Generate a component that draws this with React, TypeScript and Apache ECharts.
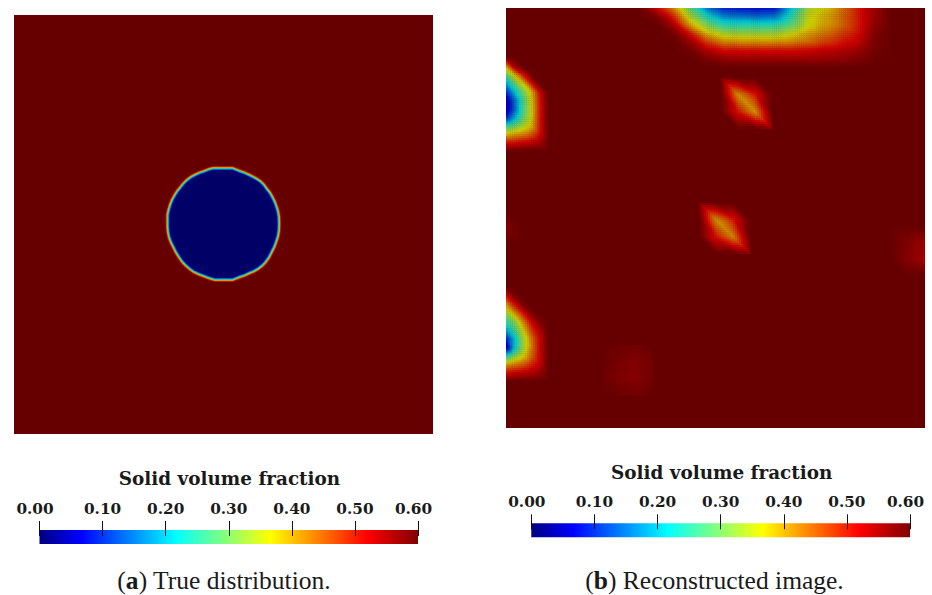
import React, { useEffect, useRef } from "react";
import * as echarts from "echarts";

// Scale
const scaleMin = 0;
const scaleMax = 0.6;
const tickLabels = ["0.00", "0.10", "0.20", "0.30", "0.40", "0.50", "0.60"];
const legendTitle = "Solid volume fraction";
const background = 0.6;

// (a) True distribution: outline of the void, in image units
const voidOutline = [
  [199.3, 152.3], [219.3, 152.3], [226, 155], [231.2, 156.8], [236, 159], [242.1, 162.1], [247.7, 165.7],
  [251.3, 169.2], [254.3, 173.3], [257.4, 177.2], [260, 181.7], [262.4, 186.5], [264.3, 191.7], [265.8, 196.5],
  [266.7, 201.7], [267, 209], [266.7, 216.7], [265.8, 221.9], [264.3, 226.7], [262.1, 232.8], [259.3, 238.3],
  [256.6, 243.6], [253.3, 248.3], [249.9, 251.9], [246, 255], [241.2, 257.8], [236, 260], [231.1, 262.3],
  [226, 264], [219.3, 266.7], [201, 266.7], [196, 265.2], [191, 263.3], [185, 261], [179.3, 258.3],
  [175, 255.2], [171, 251.7], [167.4, 247.8], [164.3, 243.3], [161.3, 238.5], [158.7, 233.3], [156.3, 228.5],
  [154.3, 223.3], [153.3, 218.4], [152.7, 213.3], [152.7, 200], [153.8, 195], [155.3, 190], [157.4, 184.8],
  [160, 180], [162.8, 175.6], [166, 171.7], [169.1, 167.8], [172.7, 164.3], [176.6, 161.4], [181, 159],
  [185.8, 156.8], [191, 155], [195, 153.4],
];
// inset from the outline (image units) and the value there
const voidEdge = [
  [-1.2, 0.57], [-0.6, 0.5], [0, 0.42], [0.6, 0.34], [1.2, 0.26], [1.8, 0.2], [2.4, 0.12], [3, 0.04], [3.6, 0],
];

// (b) Reconstructed image: node values of the reconstructed mesh, per feature
const topBlob = [
  [0.59, 0.52, 0.42, 0.28, 0.15, 0.09, 0.08, 0.07, 0.075, 0.2, 0.33, 0.37, 0.43, 0.5, 0.56, 0.6],
  [0.6, 0.58, 0.49, 0.33, 0.23, 0.16, 0.15, 0.14, 0.15, 0.24, 0.35, 0.39, 0.44, 0.5, 0.56, 0.6],
  [0.6, 0.6, 0.55, 0.4, 0.3, 0.24, 0.24, 0.24, 0.24, 0.28, 0.36, 0.4, 0.44, 0.5, 0.57, 0.6],
  [0.6, 0.6, 0.59, 0.5, 0.38, 0.33, 0.32, 0.32, 0.32, 0.35, 0.4, 0.43, 0.47, 0.51, 0.58, 0.6],
  [0.6, 0.6, 0.6, 0.56, 0.47, 0.42, 0.41, 0.41, 0.41, 0.42, 0.44, 0.47, 0.5, 0.53, 0.585, 0.6],
  [0.6, 0.6, 0.6, 0.59, 0.54, 0.51, 0.51, 0.51, 0.51, 0.51, 0.52, 0.53, 0.54, 0.56, 0.59, 0.6],
  [0.6, 0.6, 0.6, 0.6, 0.58, 0.56, 0.555, 0.555, 0.555, 0.555, 0.555, 0.56, 0.565, 0.58, 0.595, 0.6],
  [0.6, 0.6, 0.6, 0.6, 0.6, 0.6, 0.6, 0.6, 0.6, 0.6, 0.6, 0.6, 0.6, 0.6, 0.6, 0.6],
];
const leftUpperBlob = [
  [0.57, 0.6, 0.6, 0.6, 0.6, 0.6],
  [0.4, 0.55, 0.6, 0.6, 0.6, 0.6],
  [0.27, 0.38, 0.5, 0.59, 0.6, 0.6],
  [0.18, 0.28, 0.37, 0.5, 0.6, 0.6],
  [0.09, 0.2, 0.29, 0.38, 0.52, 0.6],
  [0.03, 0.14, 0.26, 0.36, 0.5, 0.6],
  [0.02, 0.13, 0.26, 0.36, 0.5, 0.6],
  [0.08, 0.18, 0.28, 0.36, 0.5, 0.6],
  [0.24, 0.28, 0.33, 0.38, 0.5, 0.6],
  [0.38, 0.4, 0.42, 0.45, 0.51, 0.6],
  [0.5, 0.5, 0.52, 0.53, 0.55, 0.6],
  [0.6, 0.6, 0.6, 0.6, 0.6, 0.6],
];
const leftLowerBlob = [
  [0.59, 0.6, 0.6, 0.6, 0.6, 0.6],
  [0.5, 0.58, 0.6, 0.6, 0.6, 0.6],
  [0.4, 0.5, 0.58, 0.6, 0.6, 0.6],
  [0.32, 0.4, 0.5, 0.58, 0.6, 0.6],
  [0.25, 0.3, 0.42, 0.52, 0.58, 0.6],
  [0.18, 0.26, 0.36, 0.47, 0.54, 0.6],
  [0.08, 0.2, 0.32, 0.43, 0.52, 0.6],
  [0.02, 0.2, 0.32, 0.42, 0.52, 0.6],
  [0.22, 0.3, 0.36, 0.44, 0.52, 0.6],
  [0.4, 0.42, 0.45, 0.49, 0.53, 0.6],
  [0.5, 0.52, 0.53, 0.54, 0.56, 0.6],
  [0.6, 0.6, 0.6, 0.6, 0.6, 0.6],
];
const upperDiamond = [
  [0.58, 0.6, 0.6, 0.6],
  [0.6, 0.41, 0.5, 0.6],
  [0.6, 0.5, 0.41, 0.6],
  [0.6, 0.6, 0.6, 0.57],
];
const middleDiamond = [
  [0.58, 0.6, 0.6, 0.6],
  [0.6, 0.41, 0.5, 0.6],
  [0.6, 0.5, 0.42, 0.6],
  [0.6, 0.6, 0.6, 0.57],
];
const faintSpot = [
  [0.6, 0.595, 0.59, 0.6],
  [0.6, 0.585, 0.578, 0.59],
  [0.595, 0.58, 0.575, 0.59],
  [0.6, 0.595, 0.59, 0.6],
];
const rightEdgeSpot = [
  [0.6, 0.6, 0.6],
  [0.6, 0.58, 0.56],
  [0.6, 0.575, 0.55],
  [0.6, 0.6, 0.6],
];
const leftEdgeSpot = [
  [0.6, 0.6],
  [0.58, 0.6],
  [0.6, 0.6],
];

const PANEL = 420;
const SUB_SIZE = 2.1;

// origin x, origin y, node spacing x, node spacing y, node values
const features: [number, number, number, number, number[][]][] = [
  [134.4, 0, 16.8, 8.4, topBlob],
  [0, 50.3, 8.4, 8.4, leftUpperBlob],
  [0, 280.3, 8.4, 8.4, leftLowerBlob],
  [216, 70, 16.8, 16.8, upperDiamond],
  [194, 195, 16.8, 16.8, middleDiamond],
  [97, 337, 16.8, 16.8, faintSpot],
  [386.4, 218, 16.8, 16.8, rightEdgeSpot],
  [0, 202, 16.8, 16.8, leftEdgeSpot],
];

const jetStops: [number, number, number, number][] = [
  [0, 0, 0, 0.5],
  [0.11, 0, 0, 1],
  [0.36, 0, 1, 1],
  [0.61, 1, 1, 0],
  [0.865, 1, 0, 0],
  [1, 0.5, 0, 0],
];

function jet(value: number, gain: number): string {
  const t = Math.min(1, Math.max(0, (value - scaleMin) / (scaleMax - scaleMin)));
  let i = 0;
  while (i < jetStops.length - 2 && t > jetStops[i + 1][0]) i++;
  const a = jetStops[i];
  const b = jetStops[i + 1];
  const f = (t - a[0]) / (b[0] - a[0]);
  const ch = (k: number) => Math.round(255 * gain * (a[k] + (b[k] - a[k]) * f));
  return `rgb(${ch(1)},${ch(2)},${ch(3)})`;
}
const PANEL_GAIN = 0.8;

function meshCells() {
  const cells: number[][] = [];
  features.forEach(([ox, oy, hx, hy, rows]) => {
    for (let r = 0; r < rows.length - 1; r++) {
      for (let c = 0; c < rows[r].length - 1; c++) {
        const q = [rows[r][c], rows[r][c + 1], rows[r + 1][c], rows[r + 1][c + 1]];
        if (q.some((v) => v < background)) cells.push([ox + c * hx, oy + r * hy, hx, hy, ...q]);
      }
    }
  });
  return cells;
}

const renderMeshCell = (_: any, api: any) => {
  const x0 = api.value(0);
  const y0 = api.value(1);
  const hx = api.value(2);
  const hy = api.value(3);
  const v00 = api.value(4);
  const v10 = api.value(5);
  const v01 = api.value(6);
  const v11 = api.value(7);
  const p0 = api.coord([x0, y0]);
  const p1 = api.coord([x0 + hx, y0 + hy]);
  const nx = Math.ceil(hx / SUB_SIZE);
  const ny = Math.ceil(hy / SUB_SIZE);
  const w = (p1[0] - p0[0]) / nx;
  const h = (p1[1] - p0[1]) / ny;
  const children: any[] = [];
  for (let j = 0; j < ny; j++) {
    for (let i = 0; i < nx; i++) {
      const s = (i + 0.5) / nx;
      const t = (j + 0.5) / ny;
      const v = s >= t ? v00 + (v10 - v00) * s + (v11 - v10) * t : v00 + (v01 - v00) * t + (v11 - v01) * s;
      if (v >= background) continue;
      children.push({
        type: "rect",
        shape: { x: p0[0] + i * w, y: p0[1] + j * h, width: w + 0.4, height: h + 0.4 },
        style: { fill: jet(v, PANEL_GAIN) },
      });
    }
  }
  return { type: "group", children, silent: true };
};

const renderVoidLevel = (_: any, api: any) => {
  const inset = api.value(0);
  const value = api.value(1);
  const n = voidOutline.length;
  const cx = voidOutline.reduce((a, p) => a + p[0], 0) / n;
  const cy = voidOutline.reduce((a, p) => a + p[1], 0) / n;
  const points = voidOutline.map(([x, y]) => {
    const d = Math.hypot(x - cx, y - cy);
    const k = (d - inset) / d;
    return api.coord([cx + (x - cx) * k, cy + (y - cy) * k]);
  });
  return { type: "polygon", shape: { points }, style: { fill: jet(value, PANEL_GAIN) }, silent: true };
};

const renderColorBar = (params: any, api: any) => {
  const sys = params.coordSys;
  const x0 = api.coord([scaleMin, 0])[0];
  const x1 = api.coord([scaleMax, 0])[0];
  return {
    type: "rect",
    shape: { x: x0, y: sys.y + 9, width: x1 - x0, height: 14 },
    style: {
      fill: new echarts.graphic.LinearGradient(
        0, 0, 1, 0,
        jetStops.map(([o, r, g, b]) => ({
          offset: o,
          color: `rgb(${Math.round(r * 255)},${Math.round(g * 255)},${Math.round(b * 255)})`,
        }))
      ),
    },
    silent: true,
  };
};

const serifBold = { fontFamily: "DejaVu Serif", fontWeight: "bold" as const, color: "#1a1a1a" };
const captionFont = { fontFamily: "Liberation Serif", fontSize: 25.5, color: "#1a1a1a" };

function colorBarAxis(gridIndex: number) {
  return {
    type: "value" as const,
    gridIndex,
    min: scaleMin,
    max: scaleMax,
    interval: 0.1,
    position: "top" as const,
    z: 5,
    splitLine: { show: false },
    axisLine: { show: false, onZero: false },
    axisTick: { show: true, inside: true, length: 15, lineStyle: { color: "#111", width: 1 } },
    axisLabel: {
      show: true,
      margin: 5,
      hideOverlap: false,
      formatter: (_: number, index: number) => {
        const label = tickLabels[index];
        return index === 0 || index === tickLabels.length - 1 ? `{edge|${label}}` : `{mid|${label}}`;
      },
      rich: {
        edge: { ...serifBold, fontSize: 15.3, padding: [0, 9, 0, 0] },
        mid: { ...serifBold, fontSize: 15.3 },
      },
    },
  };
}

function panelAxes(gridIndex: number) {
  return {
    x: { type: "value" as const, gridIndex, min: 0, max: PANEL, show: false },
    y: { type: "value" as const, gridIndex, min: 0, max: PANEL, inverse: true, show: false },
  };
}

function captionTitle(left: number, top: number, text: string) {
  return {
    text,
    left,
    top,
    textAlign: "center" as const,
    padding: 0,
    textStyle: {
      ...captionFont,
      fontWeight: "normal" as const,
      rich: {
        b: { ...captionFont, fontWeight: "bold" as const },
        n: { ...captionFont },
      },
    },
  };
}

function legendHeading(left: number, top: number) {
  return {
    text: legendTitle,
    left,
    top,
    textAlign: "center" as const,
    padding: 0,
    textStyle: { ...serifBold, fontSize: 18.4 },
  };
}

export default function App() {
  const ref = useRef<HTMLDivElement>(null);
  useEffect(() => {
    const chart = echarts.init(ref.current!, undefined, { renderer: "svg" });
    const a = panelAxes(0);
    const b = panelAxes(1);
    chart.setOption({
      animation: false,
      backgroundColor: "#ffffff",
      title: [
        legendHeading(229.5, 469),
        legendHeading(721.7, 463),
        captionTitle(224, 567, "{n|(}{b|a}{n|) True distribution.}"),
        captionTitle(714.5, 567, "{n|(}{b|b}{n|) Reconstructed image.}"),
      ],
      grid: [
        { left: 14, top: 15, width: 419, height: 419, show: true, borderWidth: 0, backgroundColor: jet(background, PANEL_GAIN) },
        { left: 506, top: 8, width: 419, height: 420, show: true, borderWidth: 0, backgroundColor: jet(background, PANEL_GAIN) },
        { left: 39.5, top: 521, width: 378.5, height: 23 },
        { left: 531.3, top: 514.3, width: 378.7, height: 23 },
      ],
      xAxis: [a.x, b.x, colorBarAxis(2), colorBarAxis(3)],
      yAxis: [
        a.y,
        b.y,
        { type: "value", gridIndex: 2, min: 0, max: 1, show: false },
        { type: "value", gridIndex: 3, min: 0, max: 1, show: false },
      ],
      series: [
        { type: "custom", xAxisIndex: 0, yAxisIndex: 0, renderItem: renderVoidLevel, data: voidEdge, clip: true },
        { type: "custom", xAxisIndex: 1, yAxisIndex: 1, renderItem: renderMeshCell, data: meshCells(), clip: true },
        { type: "custom", xAxisIndex: 2, yAxisIndex: 2, renderItem: renderColorBar, data: [[scaleMin, 0]], z: 1 },
        { type: "custom", xAxisIndex: 3, yAxisIndex: 3, renderItem: renderColorBar, data: [[scaleMin, 0]], z: 1 },
      ],
    });
    return () => chart.dispose();
  }, []);
  return <div ref={ref} style={{ position: "fixed", left: 0, top: 0, width: 932, height: 595 }} />;
}
